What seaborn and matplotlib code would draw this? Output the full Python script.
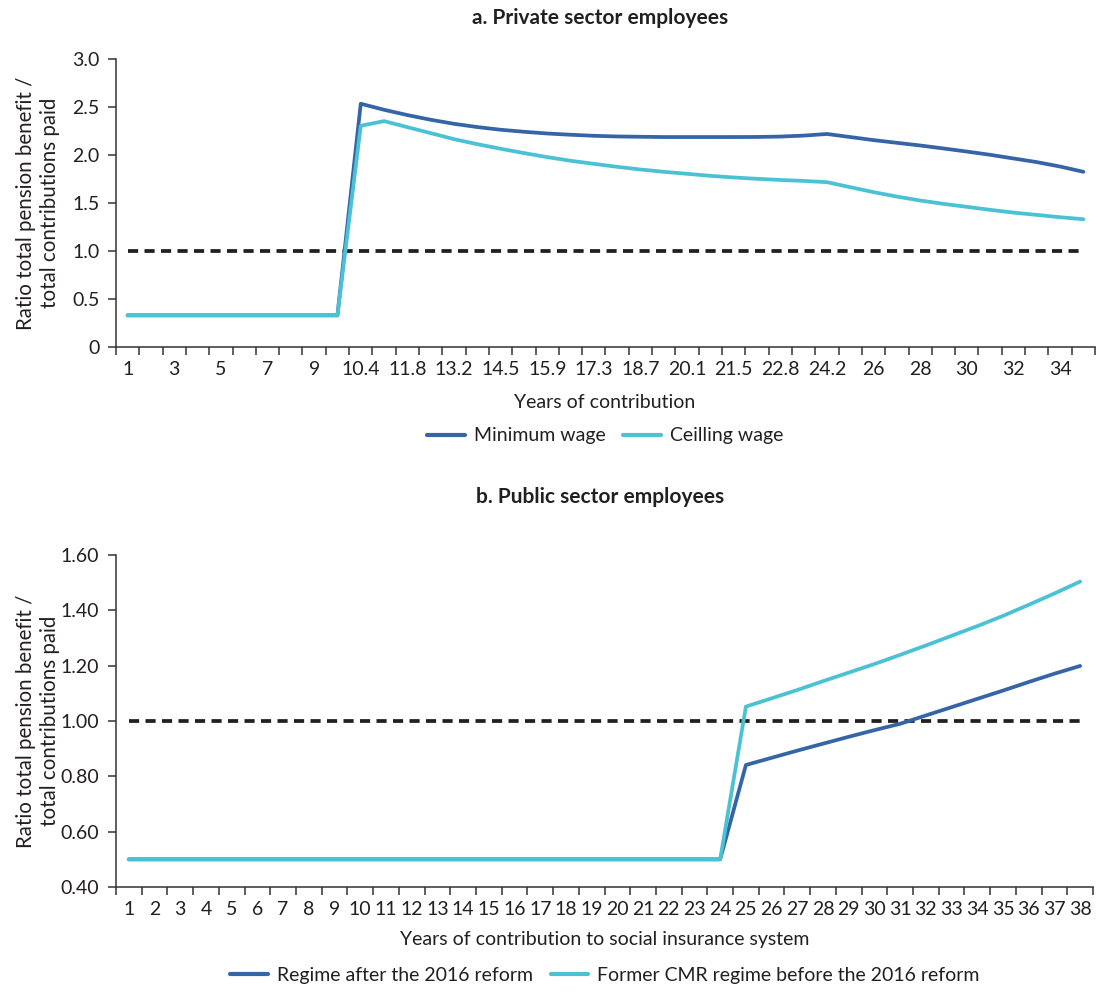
import numpy as np
import pandas as pd
import matplotlib
matplotlib.use("Agg")
import matplotlib.pyplot as plt
import seaborn as sns
from matplotlib.lines import Line2D

sns.set_theme(style="white")
plt.rcParams['font.family'] = ['Lato', 'DejaVu Sans']

TEXT = "#231f20"
DARK = "#3565a6"
CYAN = "#4ac2d3"
FS = 14

# ---------------- Panel a data ----------------
years_a = ["1", "2", "3", "4", "5", "6", "7", "8", "9", "10",
           "10.4", "11.1", "11.8", "12.5", "13.2", "13.85", "14.5", "15.2",
           "15.9", "16.6", "17.3", "18", "18.7", "19.4", "20.1", "20.8",
           "21.5", "22.15", "22.8", "23.5", "24.2", "25", "26", "27", "28",
           "29", "30", "31", "32", "33", "34", "35"]
minimum_wage = [0.33] * 10 + [
    2.534, 2.471, 2.416, 2.367, 2.325, 2.291, 2.263, 2.242, 2.224, 2.211,
    2.200, 2.193, 2.190, 2.187, 2.187, 2.187, 2.187, 2.188, 2.192, 2.202,
    2.219, 2.187, 2.155, 2.127, 2.099, 2.068, 2.036, 2.002, 1.964, 1.926,
    1.880, 1.825]
ceiling_wage = [0.33] * 10 + [
    2.304, 2.353, 2.290, 2.228, 2.165, 2.113, 2.065, 2.020, 1.978, 1.940,
    1.908, 1.877, 1.849, 1.825, 1.804, 1.783, 1.766, 1.752, 1.740, 1.730,
    1.717, 1.665, 1.613, 1.567, 1.526, 1.491, 1.460, 1.429, 1.400, 1.376,
    1.352, 1.331]
threshold_a = [1.0] * len(years_a)
yticks_a = [0, 0.5, 1.0, 1.5, 2.0, 2.5, 3.0]
yticklabels_a = ["0", "0.5", "1.0", "1.5", "2.0", "2.5", "3.0"]
series_a = ["Minimum wage", "Ceilling wage"]

# ---------------- Panel b data ----------------
years_b = [str(i) for i in range(1, 39)]
after_2016 = [0.50] * 24 + [
    0.841, 0.867, 0.893, 0.918, 0.943, 0.967, 0.990, 1.020, 1.050, 1.080,
    1.110, 1.141, 1.171, 1.199]
former_cmr = [0.50] * 24 + [
    1.052, 1.082, 1.112, 1.144, 1.175, 1.206, 1.239, 1.273, 1.308, 1.343,
    1.380, 1.420, 1.461, 1.504]
threshold_b = [1.0] * len(years_b)
yticks_b = [0.40, 0.60, 0.80, 1.00, 1.20, 1.40, 1.60]
yticklabels_b = ["0.40", "0.60", "0.80", "1.00", "1.20", "1.40", "1.60"]
series_b = ["Regime after the 2016 reform", "Former CMR regime before the 2016 reform"]

YLABEL = "Ratio total pension benefit /\ntotal contributions paid"

W, H = 1098, 992
fig = plt.figure(figsize=(W / 100, H / 100), dpi=100)


def px_axes(l, t, r, b):
    return fig.add_axes([l / W, 1 - b / H, (r - l) / W, (b - t) / H])


def draw_panel(ax, cats, s1, s2, thr, names, label_step, yt, ytl, ylim):
    pos = np.arange(len(cats))
    df = pd.DataFrame({
        "x": np.concatenate([pos, pos]),
        "y": np.concatenate([s1, s2]),
        "series": [names[0]] * len(cats) + [names[1]] * len(cats),
    })
    sns.lineplot(data=pd.DataFrame({"x": pos, "y": thr}), x="x", y="y",
                 ax=ax, color="#231f20", lw=2.7, legend=False,
                 linestyle=(0, (2.7, 1.7)))
    sns.lineplot(data=df, x="x", y="y", hue="series",
                 palette={names[0]: DARK, names[1]: CYAN}, lw=2.7, ax=ax,
                 legend=False, sort=False)
    ax.set_xlim(-0.5, len(cats) - 0.5)
    ax.set_ylim(*ylim)
    for s in ["top", "right"]:
        ax.spines[s].set_visible(False)
    for s in ["left", "bottom"]:
        ax.spines[s].set_color("#333333")
        ax.spines[s].set_linewidth(1.1)
    ax.set_xticks(np.arange(-0.5, len(cats), 1.0))
    ax.set_xticklabels([])
    ax.tick_params(axis="x", which="major", direction="out", length=6,
                   width=1.1, color="#333333", bottom=True)
    ax.set_xticks(pos[::label_step], [cats[i] for i in pos[::label_step]],
                  minor=True)
    ax.tick_params(axis="x", which="minor", length=0, pad=10,
                   labelsize=FS, labelcolor=TEXT)
    ax.set_yticks(yt, ytl)
    ax.tick_params(axis="y", direction="out", length=6, width=1.1,
                   color="#333333", left=True, pad=6, labelsize=FS,
                   labelcolor=TEXT)
    ax.set_xlabel("")
    ax.set_ylabel("")
    ax.grid(False)


ax1 = px_axes(116, 59, 1095, 347)
draw_panel(ax1, years_a, minimum_wage, ceiling_wage, threshold_a, series_a, 2,
           yticks_a, yticklabels_a, (0, 3.0))
ax2 = px_axes(116, 555, 1093, 887)
draw_panel(ax2, years_b, after_2016, former_cmr, threshold_b, series_b, 1,
           yticks_b, yticklabels_b, (0.40, 1.60))

# titles
fig.text(600 / W, 1 - 18 / H, "a. Private sector employees", ha="center",
         va="center", fontsize=15, fontweight="bold", color=TEXT)
fig.text(600 / W, 1 - 497 / H, "b. Public sector employees", ha="center",
         va="center", fontsize=15, fontweight="bold", color=TEXT)

# x labels
fig.text(605 / W, 1 - 402 / H, "Years of contribution", ha="center",
         va="center", fontsize=FS, color=TEXT)
fig.text(605 / W, 1 - 940 / H, "Years of contribution to social insurance system",
         ha="center", va="center", fontsize=FS, color=TEXT)

# y labels
for yc in [203, 721]:
    fig.text(38 / W, 1 - yc / H, YLABEL, ha="center", va="center",
             rotation=90, fontsize=14.8, color=TEXT, multialignment="center",
             linespacing=1.3)

# legends
h_a = [Line2D([], [], color=DARK, lw=3), Line2D([], [], color=CYAN, lw=3)]
for names, yc in [(series_a, 436), (series_b, 975)]:
    fig.legend(h_a, names, loc="center", bbox_to_anchor=(605 / W, 1 - yc / H),
               ncol=2, frameon=False, fontsize=FS, handlelength=1.95,
               columnspacing=0.9, handletextpad=0.45, labelcolor=TEXT)

fig.savefig("out.png", dpi=100)
